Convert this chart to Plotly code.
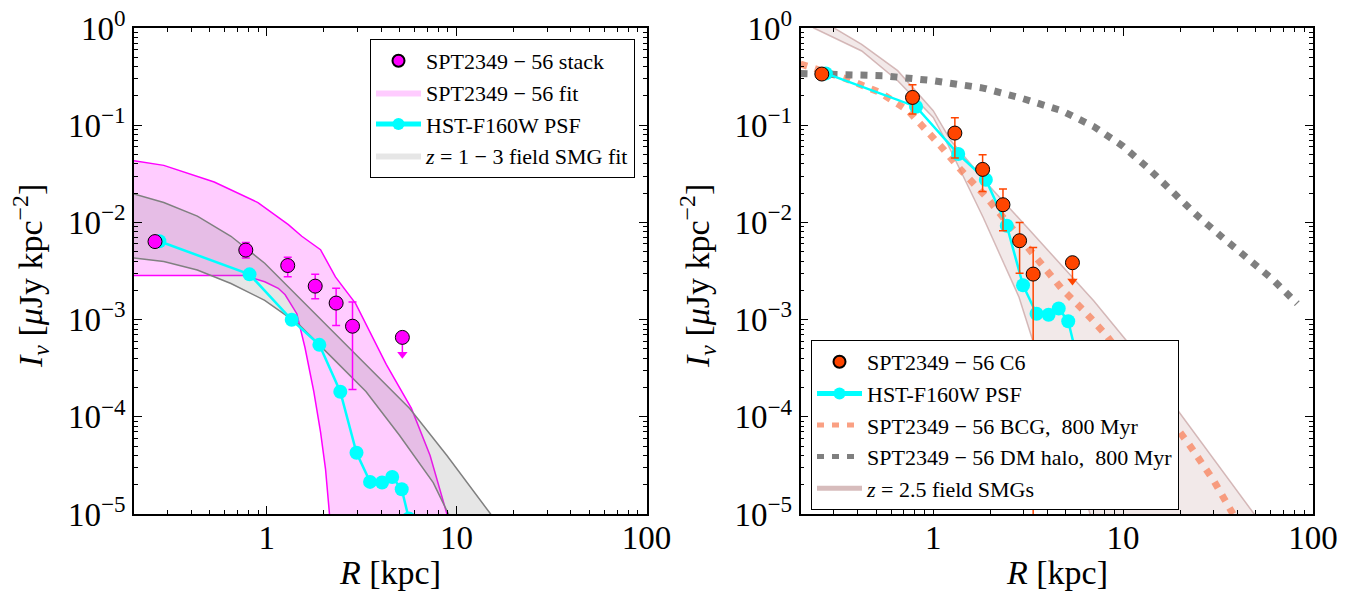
import math
import plotly.graph_objects as go

# ---------------- data ----------------
# Left panel: SPT2349-56 stack
stack_R = [0.258, 0.776, 1.29, 1.80, 2.32, 2.83]
stack_I = [0.00635, 0.00519, 0.0036, 0.00221, 0.00148, 0.000855]
stack_hi = [0.00660, 0.0062, 0.00438, 0.00292, 0.0021, 0.00152]
stack_lo = [0.00610, 0.0043, 0.00276, 0.00164, 0.000867, 0.000191]
stack_ul_R = [5.18]
stack_ul_I = [0.000656]
stack_ul_tip = [0.00044]

# HST PSF (same radii in both panels)
psf_R = [0.272, 0.812, 1.354, 1.893, 2.44, 2.97, 3.50, 4.05, 4.58, 5.14, 5.6]
psf_I_left = [0.0064, 0.00292, 0.000995, 0.00055, 0.000181, 4.26e-5, 2.14e-5, 2.11e-5, 2.4e-5, 1.8e-5, 9e-6]
psf_I_right = [0.341, 0.155, 0.0505, 0.0275, 0.00925, 0.00226, 0.00115, 0.00112, 0.0013, 0.00096, 0.00048]

# SPT2349-56 fit band
fit_up_R = [0.2, 0.287, 0.529, 0.899, 1.30, 1.53, 1.92, 2.30, 2.94, 4.26, 5.78, 7.25, 8.89, 9.6]
fit_up_I = [0.043, 0.0386, 0.026, 0.016, 0.0095, 0.0072, 0.00524, 0.00275, 0.00146, 0.000346, 0.000122, 4.0e-5, 1.0e-5, 5e-6]
fit_lo_R = [0.2, 0.76, 0.976, 1.15, 1.25, 1.44, 1.59, 1.77, 1.92, 2.04, 2.14, 2.2]
fit_lo_I = [0.00285, 0.00285, 0.00245, 0.0021, 0.0018, 0.00115, 0.000516, 0.000182, 7e-5, 2.9e-5, 1e-5, 5e-6]

# z=1-3 field SMG fit band
smg_up_R = [0.2, 0.287, 0.431, 0.648, 0.976, 1.30, 2.21, 3.33, 5.66, 8.89, 15.1, 17]
smg_up_I = [0.0196, 0.016, 0.0116, 0.0072, 0.0038, 0.00217, 0.00077, 0.00035, 0.000122, 4.0e-5, 1e-5, 7e-6]
smg_lo_R = [0.2, 0.287, 0.431, 0.648, 0.976, 1.47, 2.21, 3.33, 5.0, 7.53, 9.06, 10]
smg_lo_I = [0.0043, 0.00395, 0.00324, 0.00235, 0.00158, 0.0009, 0.000406, 0.000182, 6.45e-5, 2.1e-5, 1e-5, 6e-6]

# Right panel: SPT2349-56 C6
c6_R = [0.259, 0.778, 1.30, 1.82, 2.33, 2.85, 3.36]
c6_I = [0.336, 0.193, 0.083, 0.0351, 0.0152, 0.00648, 0.00294]
c6_hi = [0.345, 0.261, 0.119, 0.0497, 0.022, 0.010, 0.00553]
c6_lo = [0.327, 0.130, 0.046, 0.0208, 0.0082, 0.0030, 1e-7]
c6_ul_R = [5.41]
c6_ul_I = [0.00385]
c6_ul_tip = [0.0025]

# BCG model, 800 Myr
bcg_R = [0.2, 0.339, 0.522, 0.738, 1.09, 1.41, 1.91, 2.59, 3.66, 4.75, 6.3, 8.16, 22.1, 29.9, 37.9, 42]
bcg_I = [0.426, 0.306, 0.218, 0.141, 0.0615, 0.034, 0.0181, 0.0089, 0.00373, 0.00208, 0.0012, 0.00069, 5.3e-5, 2.23e-5, 1.0e-5, 7e-6]

# DM halo model, 800 Myr
dm_R = [0.2, 0.285, 0.546, 1.0, 1.83, 2.83, 4.75, 7.02, 9.91, 13.4, 18.2, 24.6, 33.3, 45.1, 61.1, 82.6]
dm_I = [0.34, 0.336, 0.323, 0.287, 0.241, 0.193, 0.141, 0.0966, 0.0615, 0.0368, 0.0204, 0.0117, 0.00702, 0.00436, 0.00261, 0.00146]

# z=2.5 field SMGs band
band_up_R = [0.2, 0.298, 0.42, 0.65, 1.0, 1.24, 2.0, 3.36, 7.0, 10.4, 49, 60]
band_up_I = [1.6, 1.0, 0.68, 0.364, 0.141, 0.069, 0.023, 0.0076, 0.00156, 6.1e-4, 1e-5, 5e-6]
band_lo_R = [0.2, 0.235, 0.42, 0.65, 1.0, 1.19, 1.83, 2.38, 2.83, 3.66, 5.18, 6.7, 7.5]
band_lo_I = [1.3, 1.0, 0.58, 0.287, 0.12, 0.064, 0.0113, 0.0037, 0.0017, 3.5e-4, 4.9e-5, 1e-5, 5e-6]

x_ticks = [1, 10, 100]
y_ticks = [1e0, 1e-1, 1e-2, 1e-3, 1e-4, 1e-5]
y_ticktext = ["10<sup>0</sup>", "10<sup>−1</sup>", "10<sup>−2</sup>", "10<sup>−3</sup>",
              "10<sup>−4</sup>", "10<sup>−5</sup>"]

# ---------------- figure ----------------
FONT = "Liberation Serif"
W, H = 1357, 597
MAG = "#FF00FF"
CYAN = "#00FFFF"
ORR = "#FF4500"
BCG_C = "rgba(248,128,90,0.75)"
SMG_LINE = "rgba(188,143,143,0.6)"

fig = go.Figure()


def band(xa, ya, up_R, up_I, lo_R, lo_I, fill, edge, ew=1.5):
    fig.add_trace(go.Scatter(x=up_R + lo_R[::-1], y=up_I + lo_I[::-1], mode="lines",
                             fill="toself", fillcolor=fill, line=dict(width=0),
                             showlegend=False, xaxis=xa, yaxis=ya, hoverinfo="skip"))
    for r, i in ((up_R, up_I), (lo_R, lo_I)):
        fig.add_trace(go.Scatter(x=r, y=i, mode="lines", line=dict(color=edge, width=ew),
                                 showlegend=False, xaxis=xa, yaxis=ya, hoverinfo="skip"))


# ---- left panel ----
band("x", "y", fit_up_R, fit_up_I, fit_lo_R, fit_lo_I, "rgba(255,0,255,0.2)", MAG)
band("x", "y", smg_up_R, smg_up_I, smg_lo_R, smg_lo_I, "rgba(128,128,128,0.2)", "#808080")

fig.add_trace(go.Scatter(x=psf_R, y=psf_I_left, mode="lines+markers",
                         line=dict(color=CYAN, width=2.5), marker=dict(color=CYAN, size=14),
                         showlegend=False, xaxis="x", yaxis="y"))
fig.add_trace(go.Scatter(
    x=stack_R, y=stack_I, mode="markers",
    marker=dict(color=MAG, size=14, line=dict(color="black", width=1)),
    error_y=dict(type="data", symmetric=False,
                 array=[h - v for h, v in zip(stack_hi, stack_I)],
                 arrayminus=[v - l for l, v in zip(stack_lo, stack_I)],
                 color=MAG, thickness=1.5, width=4),
    showlegend=False, xaxis="x", yaxis="y"))
fig.add_trace(go.Scatter(x=stack_ul_R * 2, y=stack_ul_I + stack_ul_tip, mode="lines",
                         line=dict(color=MAG, width=1.5), showlegend=False, xaxis="x", yaxis="y"))
fig.add_trace(go.Scatter(x=stack_ul_R, y=stack_ul_tip, mode="markers",
                         marker=dict(symbol="triangle-down", color=MAG, size=9),
                         showlegend=False, xaxis="x", yaxis="y"))
fig.add_trace(go.Scatter(x=stack_ul_R, y=stack_ul_I, mode="markers",
                         marker=dict(color=MAG, size=14, line=dict(color="black", width=1)),
                         showlegend=False, xaxis="x", yaxis="y"))

# legend entries (left)
fig.add_trace(go.Scatter(x=[None], y=[None], mode="markers", name="SPT2349 − 56 stack",
                         marker=dict(color=MAG, size=14, line=dict(color="black", width=1)),
                         legend="legend", xaxis="x", yaxis="y"))
fig.add_trace(go.Scatter(x=[None], y=[None], mode="lines", name="SPT2349 − 56 fit",
                         fill="toself", fillcolor="rgba(255,0,255,0.2)", line=dict(width=0),
                         legend="legend", xaxis="x", yaxis="y"))
fig.add_trace(go.Scatter(x=[None], y=[None], mode="lines+markers", name="HST-F160W PSF",
                         line=dict(color=CYAN, width=2.5), marker=dict(color=CYAN, size=14),
                         legend="legend", xaxis="x", yaxis="y"))
fig.add_trace(go.Scatter(x=[None], y=[None], mode="lines", name="<i>z</i> = 1 − 3 field SMG fit",
                         fill="toself", fillcolor="rgba(128,128,128,0.2)", line=dict(width=0),
                         legend="legend", xaxis="x", yaxis="y"))

# ---- right panel ----
band("x2", "y2", band_up_R, band_up_I, band_lo_R, band_lo_I, "rgba(188,143,143,0.2)", SMG_LINE)
fig.add_trace(go.Scatter(x=bcg_R, y=bcg_I, mode="lines",
                         line=dict(color=BCG_C, width=7, dash="7px,8px"),
                         showlegend=False, xaxis="x2", yaxis="y2"))
fig.add_trace(go.Scatter(x=dm_R, y=dm_I, mode="lines",
                         line=dict(color="#7F7F7F", width=7, dash="7px,8px"),
                         showlegend=False, xaxis="x2", yaxis="y2"))
fig.add_trace(go.Scatter(x=psf_R, y=psf_I_right, mode="lines+markers",
                         line=dict(color=CYAN, width=2.5), marker=dict(color=CYAN, size=14),
                         showlegend=False, xaxis="x2", yaxis="y2"))
fig.add_trace(go.Scatter(
    x=c6_R, y=c6_I, mode="markers",
    marker=dict(color=ORR, size=14, line=dict(color="black", width=1)),
    error_y=dict(type="data", symmetric=False,
                 array=[h - v for h, v in zip(c6_hi, c6_I)],
                 arrayminus=[v - l for l, v in zip(c6_lo, c6_I)],
                 color=ORR, thickness=1.5, width=4),
    showlegend=False, xaxis="x2", yaxis="y2"))
fig.add_trace(go.Scatter(x=c6_ul_R * 2, y=c6_ul_I + c6_ul_tip, mode="lines",
                         line=dict(color=ORR, width=1.5), showlegend=False, xaxis="x2", yaxis="y2"))
fig.add_trace(go.Scatter(x=c6_ul_R, y=c6_ul_tip, mode="markers",
                         marker=dict(symbol="triangle-down", color=ORR, size=9),
                         showlegend=False, xaxis="x2", yaxis="y2"))
fig.add_trace(go.Scatter(x=c6_ul_R, y=c6_ul_I, mode="markers",
                         marker=dict(color=ORR, size=14, line=dict(color="black", width=1)),
                         showlegend=False, xaxis="x2", yaxis="y2"))

# legend entries (right)
fig.add_trace(go.Scatter(x=[None], y=[None], mode="markers", name="SPT2349 − 56 C6",
                         marker=dict(color=ORR, size=14, line=dict(color="black", width=1)),
                         legend="legend2", xaxis="x2", yaxis="y2"))
fig.add_trace(go.Scatter(x=[None], y=[None], mode="lines+markers", name="HST-F160W PSF",
                         line=dict(color=CYAN, width=2.5), marker=dict(color=CYAN, size=14),
                         legend="legend2", xaxis="x2", yaxis="y2"))
fig.add_trace(go.Scatter(x=[None], y=[None], mode="lines", name="SPT2349 − 56 BCG,  800 Myr",
                         line=dict(color=BCG_C, width=7, dash="7px,8px"),
                         legend="legend2", xaxis="x2", yaxis="y2"))
fig.add_trace(go.Scatter(x=[None], y=[None], mode="lines", name="SPT2349 − 56 DM halo,  800 Myr",
                         line=dict(color="#7F7F7F", width=7, dash="7px,8px"),
                         legend="legend2", xaxis="x2", yaxis="y2"))
fig.add_trace(go.Scatter(x=[None], y=[None], mode="lines", name="<i>z</i> = 2.5 field SMGs",
                         line=dict(color=SMG_LINE, width=2),
                         legend="legend2", xaxis="x2", yaxis="y2"))

# ---------------- layout ----------------
xminor = [v * d for d in (0.1, 1, 10) for v in range(2, 10) if v * d >= 0.2]
yminor = [v * 10 ** e for e in range(-5, 0) for v in range(2, 10)]


def common_axis():
    return dict(ticks="inside", ticklen=8, tickwidth=1.2, tickcolor="black",
                showline=True, linecolor="black", linewidth=1.5, mirror="allticks",
                showgrid=False, zeroline=False, automargin=False,
                tickfont=dict(family=FONT, size=33, color="black"))


def xax(domain, anchor):
    return dict(type="log", range=[math.log10(0.2), 2], domain=domain, anchor=anchor,
                tickvals=x_ticks, ticktext=[str(v) for v in x_ticks], ticklabelstandoff=-6,
                minor=dict(tickvals=xminor, ticks="inside", ticklen=4, tickwidth=1,
                           tickcolor="black", showgrid=False),
                **common_axis())


def yax(domain, anchor):
    return dict(type="log", range=[-5, 0], domain=domain, anchor=anchor,
                tickvals=y_ticks, ticktext=y_ticktext,
                minor=dict(tickvals=yminor, ticks="inside", ticklen=4, tickwidth=1,
                           tickcolor="black", showgrid=False),
                **common_axis())


ydom = [1 - 514 / H, 1 - 28 / H]
xd1 = [134 / W, 646.5 / W]
xd2 = [800.5 / W, 1313 / W]

legend_style = dict(bgcolor="white", bordercolor="black", borderwidth=1,
                    font=dict(family=FONT, size=22, color="black"),
                    tracegroupgap=0, itemsizing="constant", itemwidth=45)

title_font = dict(family=FONT, size=34, color="black")
ytitle = "<i>I<sub>ν</sub></i> [<i>μ</i>Jy kpc<sup>−2</sup>]"
xtitle = "<i>R</i> [kpc]"

fig.update_layout(
    width=W, height=H, margin=dict(l=0, r=0, t=0, b=0, autoexpand=False),
    plot_bgcolor="white", paper_bgcolor="white",
    xaxis=xax(xd1, "y"),
    yaxis=yax(ydom, "x"),
    xaxis2=xax(xd2, "y2"),
    yaxis2=yax(ydom, "x2"),
    legend=dict(x=635 / W, xanchor="right", y=1 - 39 / H, yanchor="top", **legend_style),
    legend2=dict(x=811 / W, xanchor="left", y=1 - 340 / H, yanchor="top", **legend_style),
    showlegend=True,
    annotations=[
        dict(text=xtitle, x=(xd1[0] + xd1[1]) / 2, y=1 - 572 / H, xref="paper", yref="paper",
             xanchor="center", yanchor="middle", showarrow=False, font=title_font),
        dict(text=xtitle, x=(xd2[0] + xd2[1]) / 2, y=1 - 572 / H, xref="paper", yref="paper",
             xanchor="center", yanchor="middle", showarrow=False, font=title_font),
        dict(text=ytitle, x=30 / W, y=1 - 276 / H, xref="paper", yref="paper",
             xanchor="center", yanchor="middle", showarrow=False, textangle=-90, font=title_font),
        dict(text=ytitle, x=697 / W, y=1 - 276 / H, xref="paper", yref="paper",
             xanchor="center", yanchor="middle", showarrow=False, textangle=-90, font=title_font),
    ],
)

fig.write_html("out.html", config={"displayModeBar": False},
               post_script="document.body.style.margin='0px';document.body.style.overflow='hidden';")
